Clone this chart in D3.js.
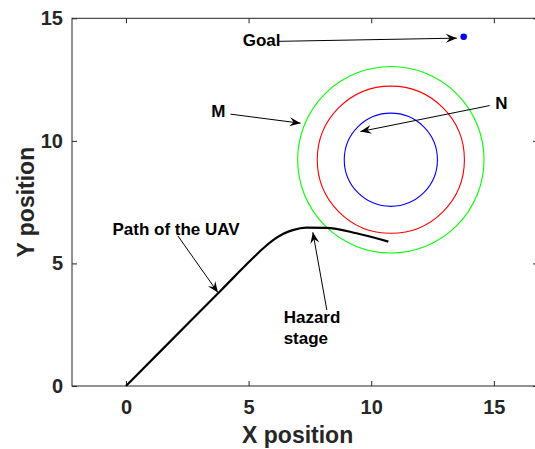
<!DOCTYPE html>
<html>
<head>
<meta charset="utf-8">
<script src="https://cdn.jsdelivr.net/npm/d3@7"></script>
<style>
  body { margin: 0; background: #fff; }
  text { font-family: "Liberation Sans", Arial, Helvetica, sans-serif; font-weight: bold; }
</style>
</head>
<body>
<script>
// data
var pathX = [0, 1.3, 2.6, 3.9, 5.2, 5.6, 6.0, 6.4, 6.8, 7.35, 8.17, 9.4, 10.7];
var pathY = [0, 1.31, 2.62, 3.93, 5.24, 5.62, 5.95, 6.2, 6.36, 6.46, 6.45, 6.23, 5.89];
var zoneCenter = [10.8, 9.23];
var zoneRadius = [3.8, 3.0, 1.9];
var zoneColor = ["#00ff00", "#ff0000", "#0000ff"];
var goal = [13.77, 14.25];
var xTicks = [0, 5, 10, 15];
var yTicks = [0, 5, 10, 15];

// annotations: label, text position, arrow tail, arrow head (data units)
var labels = ["Goal", "M", "N", "Path of the UAV", "Hazard"];
var labelPos = [[4.76, 13.87], [3.48, 10.99], [15.06, 11.30], [-0.55, 6.17], [6.43, 2.58]];
var arrowFrom = [[6.22, 14.06], [4.26, 11.09], [14.83, 11.44], [2.12, 6.12], [8.19, 3.10]];
var arrowTo = [[13.49, 14.19], [7.12, 10.72], [9.56, 10.38], [3.75, 3.81], [7.62, 6.27]];

var width = 535, height = 449;
var svg = d3.select("body")
    .append("svg")
    .attr("width", width)
    .attr("height", height)
    .style("display", "block");

var x = d3.scaleLinear().domain([-2.2, 16.8]).range([72, 538]);
var y = d3.scaleLinear().domain([0, 15]).range([386, 18.3]);

var ink = "#262626";

// box
svg.append("rect")
    .attr("x", x(-2.2))
    .attr("y", y(15))
    .attr("width", x(16.8) - x(-2.2))
    .attr("height", y(0) - y(15))
    .attr("fill", "none")
    .attr("stroke", ink)
    .attr("stroke-width", 1);

// axes with inward ticks
var gx = svg.append("g")
    .attr("transform", "translate(0," + y(0) + ")")
    .call(d3.axisBottom(x).tickValues(xTicks).tickSize(-5).tickPadding(14));
var gy = svg.append("g")
    .attr("transform", "translate(" + x(-2.2) + ",0)")
    .call(d3.axisLeft(y).tickValues(yTicks).tickSize(-5).tickPadding(9));
var gxt = svg.append("g")
    .attr("transform", "translate(0," + y(15) + ")")
    .call(d3.axisTop(x).tickValues(xTicks).tickSize(-5).tickFormat(""));
var gyr = svg.append("g")
    .attr("transform", "translate(" + x(16.8) + ",0)")
    .call(d3.axisRight(y).tickValues(yTicks).tickSize(-5).tickFormat(""));

[gx, gy, gxt, gyr].forEach(function(g) {
    g.select(".domain").remove();
    g.selectAll("line").attr("stroke", ink);
    g.selectAll("text")
        .attr("fill", ink)
        .style("font-size", "20px")
        .style("font-family", "'Liberation Sans', Arial, sans-serif")
        .style("font-weight", "bold");
});

// axis titles
svg.append("text")
    .attr("x", x(7))
    .attr("y", 443)
    .attr("text-anchor", "middle")
    .attr("font-size", "23px")
    .attr("fill", ink)
    .text("X position");

svg.append("text")
    .attr("transform", "translate(34," + y(7.5) + ") rotate(-90)")
    .attr("text-anchor", "middle")
    .attr("font-size", "23px")
    .attr("fill", ink)
    .text("Y position");

// danger zones
svg.selectAll(".zone")
    .data(zoneRadius)
    .enter()
    .append("circle")
    .attr("class", "zone")
    .attr("cx", x(zoneCenter[0]))
    .attr("cy", y(zoneCenter[1]))
    .attr("r", function(d) { return x(d) - x(0); })
    .attr("fill", "none")
    .attr("stroke", function(d, i) { return zoneColor[i]; })
    .attr("stroke-width", 1.1);

// UAV path
var line = d3.line()
    .x(function(d) { return x(d[0]); })
    .y(function(d) { return y(d[1]); })
    .curve(d3.curveMonotoneX);

svg.append("path")
    .datum(d3.zip(pathX, pathY))
    .attr("d", line)
    .attr("fill", "none")
    .attr("stroke", "#000")
    .attr("stroke-width", 2.2);

// goal
svg.append("circle")
    .attr("cx", x(goal[0]))
    .attr("cy", y(goal[1]))
    .attr("r", 3.3)
    .attr("fill", "#0000ff");

// arrow head
svg.append("defs").append("marker")
    .attr("id", "head")
    .attr("viewBox", "-12 -6 14 12")
    .attr("refX", 0)
    .attr("refY", 0)
    .attr("markerUnits", "userSpaceOnUse")
    .attr("markerWidth", 14)
    .attr("markerHeight", 12)
    .attr("orient", "auto")
    .append("path")
    .attr("d", "M0,0 L-11,-4.5 L-7,0 L-11,4.5 Z")
    .attr("fill", "#000");

svg.selectAll(".arrow")
    .data(arrowFrom)
    .enter()
    .append("line")
    .attr("class", "arrow")
    .attr("x1", function(d) { return x(d[0]); })
    .attr("y1", function(d) { return y(d[1]); })
    .attr("x2", function(d, i) { return x(arrowTo[i][0]); })
    .attr("y2", function(d, i) { return y(arrowTo[i][1]); })
    .attr("stroke", "#000")
    .attr("stroke-width", 1)
    .attr("marker-end", "url(#head)");

svg.selectAll(".label")
    .data(labels)
    .enter()
    .append("text")
    .attr("class", "label")
    .attr("x", function(d, i) { return x(labelPos[i][0]); })
    .attr("y", function(d, i) { return y(labelPos[i][1]); })
    .attr("font-size", "17px")
    .attr("fill", "#000")
    .text(function(d) { return d; });

svg.append("text")
    .attr("x", x(6.43))
    .attr("y", y(1.71))
    .attr("font-size", "17px")
    .attr("fill", "#000")
    .text("stage");
</script>
</body>
</html>
